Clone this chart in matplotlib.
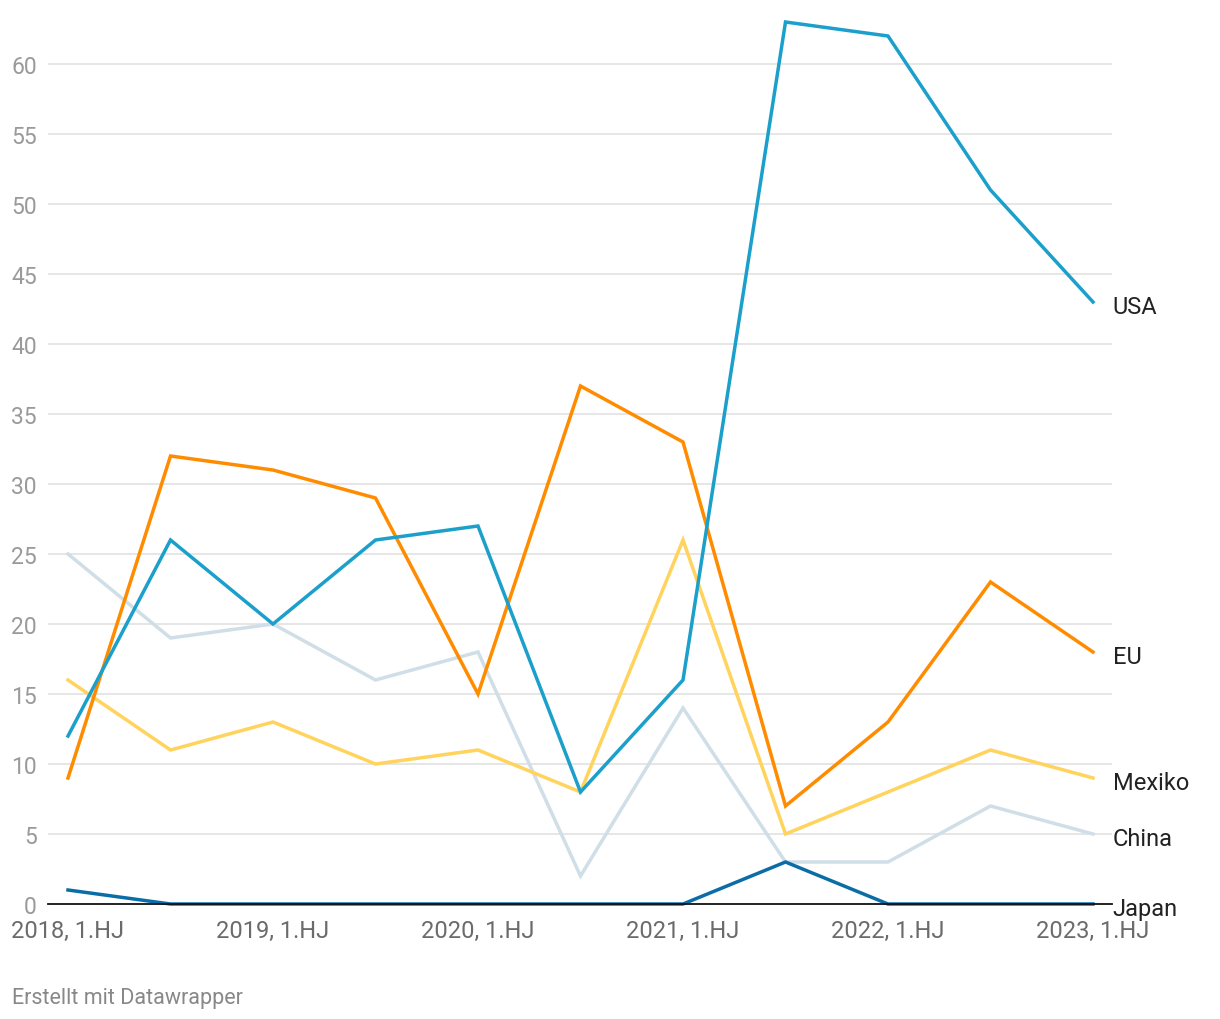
import matplotlib.pyplot as plt
import numpy as np

plt.rcParams['font.family'] = ['Roboto', 'DejaVu Sans']

periods = ["2018, 1.HJ", "2018, 2.HJ", "2019, 1.HJ", "2019, 2.HJ", "2020, 1.HJ", "2020, 2.HJ",
           "2021, 1.HJ", "2021, 2.HJ", "2022, 1.HJ", "2022, 2.HJ", "2023, 1.HJ"]
usa = [12, 26, 20, 26, 27, 8, 16, 63, 62, 51, 43]
eu = [9, 32, 31, 29, 15, 37, 33, 7, 13, 23, 18]
mexiko = [16, 11, 13, 10, 11, 8, 26, 5, 8, 11, 9]
china = [25, 19, 20, 16, 18, 2, 14, 3, 3, 7, 5]
japan = [1, 0, 0, 0, 0, 0, 0, 3, 0, 0, 0]

series = [("China", china, "#d0dee7"), ("Mexiko", mexiko, "#ffd35c"),
          ("EU", eu, "#ff8c00"), ("USA", usa, "#1b9fcb"), ("Japan", japan, "#0b6da8")]

fig = plt.figure(figsize=(12.2, 10.2), dpi=100)
ax = fig.add_axes([48/1220, (1020-905)/1020, (1112-48)/1220, (905-16)/1020])

x = np.arange(len(periods))
for name, vals, col in series:
    ax.plot(x, vals, color=col, lw=2.5, solid_joinstyle='miter', zorder=3, clip_on=False)

ax.set_xlim(-20/102.5, 10 + 19/102.5)
ax.set_ylim(0, 63.5)
yt = np.arange(0, 61, 5)
ax.set_yticks(yt)
ax.set_yticklabels([str(v) for v in yt], color="#9a9a9a", fontsize=16.5)
for v in yt[1:]:
    ax.axhline(v, color="#e2e2e2", lw=1.2, zorder=1)
ax.axhline(0, color="#111111", lw=1.3, zorder=4, clip_on=False)

ax.set_xticks(x[::2])
ax.set_xticklabels(periods[::2], color="#6b6b6b", fontsize=17)
ax.tick_params(axis='both', length=0)
ax.tick_params(axis='y', pad=8)
ax.tick_params(axis='x', pad=11)
for s in ax.spines.values():
    s.set_visible(False)

for name, vals, col in series:
    ax.annotate(name, xy=(1.0, vals[-1]), xycoords=('axes fraction', 'data'),
                xytext=(0.5, -3.5), textcoords='offset points',
                ha='left', va='center', fontsize=17, color="#222222")

fig.text(12/1220, 1 - 999/1020, "Erstellt mit Datawrapper", color="#888888",
         fontsize=15.5, ha='left', va='center')

fig.savefig("out.png", dpi=100)
